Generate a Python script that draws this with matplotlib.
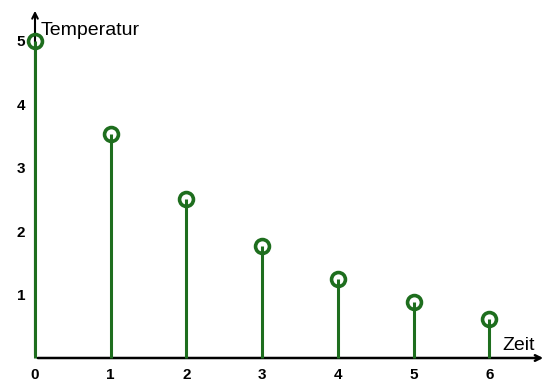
import matplotlib.pyplot as plt

plt.rcParams['font.family'] = ['Liberation Sans', 'DejaVu Sans']

zeit = [0, 1, 2, 3, 4, 5, 6]
temperatur = [5.0, 3.54, 2.5, 1.77, 1.25, 0.88, 0.62]
xticks = [0, 1, 2, 3, 4, 5, 6]
yticks = [1, 2, 3, 4, 5]

green = '#1e6e1e'

fig = plt.figure(figsize=(5.46, 3.83), dpi=100)
ax = fig.add_axes([35 / 546, 25 / 383, 511 / 546, 350 / 383])
ax.set_xlim(0, 6.75)
ax.set_ylim(0, 5.52)

ax.vlines(zeit, 0, temperatur, color=green, lw=2.2, zorder=2, clip_on=False)
ax.plot(zeit, temperatur, 'o', ms=10, mfc='none', mec=green, mew=2.6,
        zorder=3, clip_on=False)

for s in ax.spines.values():
    s.set_visible(False)
ax.annotate('', xy=(6.75, 0), xytext=(0, 0),
            arrowprops=dict(arrowstyle='->', lw=1.8, color='black'),
            annotation_clip=False, zorder=1)
ax.annotate('', xy=(0, 5.52), xytext=(0, 0),
            arrowprops=dict(arrowstyle='->', lw=1.5, color='black'),
            annotation_clip=False, zorder=1)

ax.set_xticks(xticks)
ax.set_yticks(yticks)
ax.tick_params(length=0, labelsize=11, pad=7)
for lab in ax.get_xticklabels() + ax.get_yticklabels():
    lab.set_fontweight('bold')
ax.tick_params(axis='y', pad=7)

ax.text(0.08, 5.17, 'Temperatur', fontsize=14, va='center', ha='left')
ax.text(6.6, 0.2, 'Zeit', fontsize=14, va='center', ha='right')

fig.savefig('out.png')
